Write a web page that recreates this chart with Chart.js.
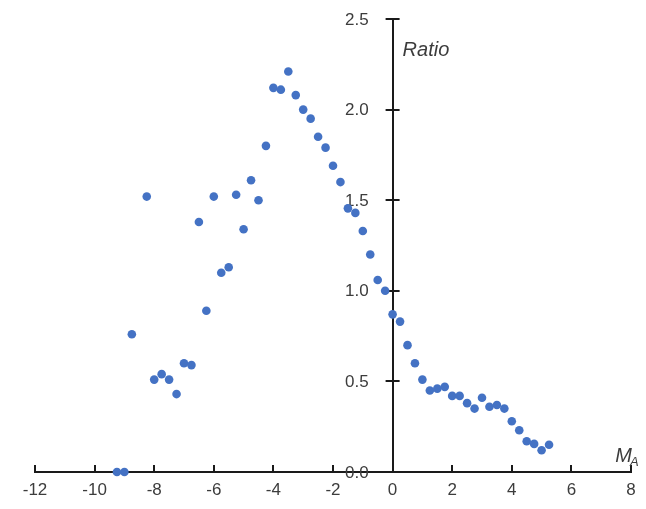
<!DOCTYPE html>
<html>
<head>
<meta charset="utf-8">
<script src="https://cdn.jsdelivr.net/npm/chart.js@4"></script>
<style>
  html, body { margin: 0; padding: 0; background: #fff; }
  #wrap { width: 646px; height: 509px; }
</style>
</head>
<body>
<div id="wrap"><canvas id="c" width="646" height="509"></canvas></div>
<script>
// Data
const magnitudes = [
  -9.25, -9.0, -8.75, -8.25, -8.0, -7.75, -7.5, -7.25, -7.0, -6.75,
  -6.5, -6.25, -6.0, -5.75, -5.5, -5.25, -5.0, -4.75, -4.5, -4.25,
  -4.0, -3.75, -3.5, -3.25, -3.0, -2.75, -2.5, -2.25, -2.0, -1.75,
  -1.5, -1.25, -1.0, -0.75, -0.5, -0.25, 0.0, 0.25, 0.5, 0.75,
  1.0, 1.25, 1.5, 1.75, 2.0, 2.25, 2.5, 2.75, 3.0, 3.25,
  3.5, 3.75, 4.0, 4.25, 4.5, 4.75, 5.0, 5.25
];
const ratios = [
  0.00, 0.00, 0.76, 1.52, 0.51, 0.54, 0.51, 0.43, 0.60, 0.59,
  1.38, 0.89, 1.52, 1.10, 1.13, 1.53, 1.34, 1.61, 1.50, 1.80,
  2.12, 2.11, 2.21, 2.08, 2.00, 1.95, 1.85, 1.79, 1.69, 1.60,
  1.455, 1.43, 1.33, 1.20, 1.06, 1.00, 0.87, 0.83, 0.70, 0.60,
  0.51, 0.45, 0.46, 0.47, 0.42, 0.42, 0.38, 0.35, 0.41, 0.36,
  0.37, 0.35, 0.28, 0.23, 0.17, 0.155, 0.12, 0.15
];
const xTicks = [-12, -10, -8, -6, -4, -2, 0, 2, 4, 6, 8];
const yTicks = [0.0, 0.5, 1.0, 1.5, 2.0, 2.5];
const yTitle = 'Ratio';
const xTitleMain = 'M';
const xTitleSub = 'A';

const points = magnitudes.map((m, i) => ({ x: m, y: ratios[i] }));

const AXIS_COLOR = '#1a1a1a';
const LABEL_COLOR = '#3c3c3c';
const FONT_FAMILY = '"Liberation Sans", Arial, sans-serif';

const tickPlugin = {
  id: 'crossTicks',
  beforeDatasetsDraw(chart) {
    const ctx = chart.ctx;
    const xs = chart.scales.x, ys = chart.scales.y;
    const x0 = xs.getPixelForValue(0);
    const y0 = ys.getPixelForValue(0);
    ctx.save();
    ctx.strokeStyle = AXIS_COLOR;
    ctx.lineWidth = 2;
    ctx.beginPath();
    xTicks.forEach(v => {
      if (v === 0) return;
      const px = Math.round(xs.getPixelForValue(v));
      ctx.moveTo(px, y0);
      ctx.lineTo(px, y0 - 7);
    });
    yTicks.forEach(v => {
      if (v === 0) return;
      const py = Math.round(ys.getPixelForValue(v));
      ctx.moveTo(x0 - 7, py);
      ctx.lineTo(x0 + 7, py);
    });
    ctx.stroke();
    // y tick labels, right-aligned left of the y axis
    ctx.fillStyle = LABEL_COLOR;
    ctx.font = '17px ' + FONT_FAMILY;
    ctx.textAlign = 'right';
    ctx.textBaseline = 'middle';
    ys.ticks.forEach(t => {
      ctx.fillText(Number(t.value).toFixed(1), x0 - 24, ys.getPixelForValue(t.value) + 1);
    });
    ctx.restore();
  },
  afterDraw(chart) {
    const ctx = chart.ctx;
    const xs = chart.scales.x, ys = chart.scales.y;
    const x0 = xs.getPixelForValue(0);
    const y0 = ys.getPixelForValue(0);
    const top = chart.chartArea.top;
    const right = chart.chartArea.right;
    ctx.save();
    ctx.fillStyle = LABEL_COLOR;
    ctx.font = 'italic 20px ' + FONT_FAMILY;
    ctx.textAlign = 'left';
    ctx.textBaseline = 'alphabetic';
    ctx.fillText(yTitle, x0 + 10, top + 37);
    ctx.textAlign = 'right';
    ctx.fillText(xTitleMain, right + 1, y0 - 10);
    ctx.textAlign = 'left';
    ctx.font = 'italic 13px ' + FONT_FAMILY;
    ctx.fillText(xTitleSub, right - 1, y0 - 6);
    ctx.restore();
  }
};

new Chart(document.getElementById('c'), {
  type: 'scatter',
  data: {
    datasets: [{
      data: points,
      backgroundColor: '#4472C4',
      borderColor: '#4472C4',
      borderWidth: 0,
      pointRadius: 4.3,
      pointHoverRadius: 4.3,
      clip: false
    }]
  },
  options: {
    responsive: false,
    animation: false,
    devicePixelRatio: 1,
    layout: { padding: { left: 35, right: 15, top: 19, bottom: 37 } },
    plugins: {
      legend: { display: false },
      tooltip: { enabled: false }
    },
    scales: {
      x: {
        type: 'linear',
        position: { y: 0 },
        min: -12, max: 8,
        afterBuildTicks: (s) => { s.ticks = xTicks.map(v => ({ value: v })); },
        grid: { display: true, drawOnChartArea: false, drawTicks: false },
        border: { display: true, color: AXIS_COLOR, width: 2 },
        ticks: {
          color: LABEL_COLOR,
          font: { family: FONT_FAMILY, size: 17 },
          padding: 8,
          maxRotation: 0,
          callback: (v) => String(v)
        }
      },
      y: {
        type: 'linear',
        position: { x: 0 },
        min: 0, max: 2.5,
        afterBuildTicks: (s) => { s.ticks = yTicks.map(v => ({ value: v })); },
        grid: { display: true, drawOnChartArea: false, drawTicks: false },
        border: { display: true, color: AXIS_COLOR, width: 2 },
        ticks: { display: false }
      }
    }
  },
  plugins: [tickPlugin]
});
</script>
</body>
</html>
